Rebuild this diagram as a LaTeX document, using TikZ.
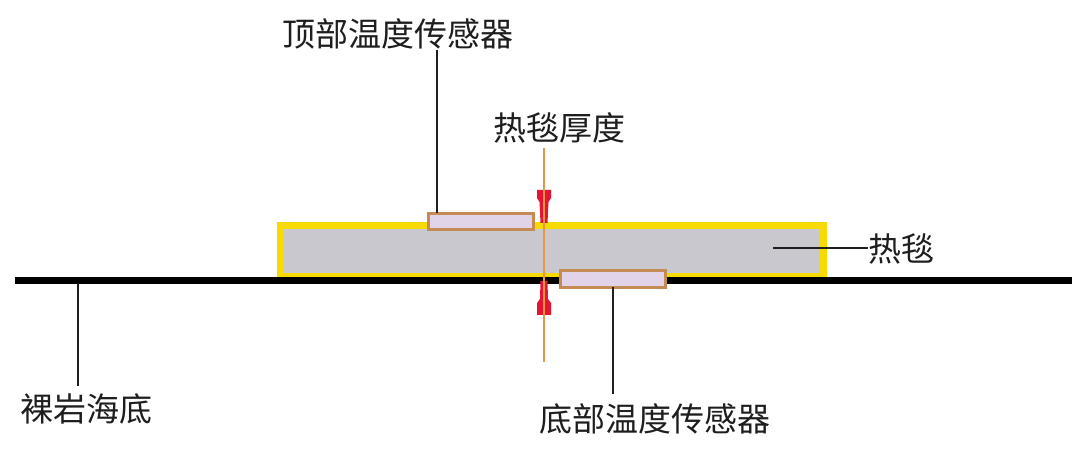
\documentclass[tikz,border=0pt]{standalone}
\usepackage{fontspec}
\newfontfamily\cjk{Noto Sans CJK SC}
\definecolor{blanketyellow}{RGB}{246,218,0}
\definecolor{blanketgray}{RGB}{201,200,206}
\definecolor{sensorbrown}{RGB}{196,140,84}
\definecolor{sensorfill}{RGB}{226,212,232}
\definecolor{thickorange}{RGB}{232,150,70}
\definecolor{arrowred}{RGB}{228,20,50}
\definecolor{txt}{RGB}{30,30,30}
\tikzset{
  lbl/.style={font=\cjk\fontsize{33}{33}\selectfont, text=txt, inner sep=0pt},
  blanketbox/.style={draw=blanketyellow, fill=blanketgray, line width=7pt, inner sep=0pt, outer sep=0pt},
  sensorbox/.style={draw=sensorbrown, fill=sensorfill, line width=3pt, inner sep=0pt, outer sep=0pt,
    minimum width=105pt, minimum height=16pt},
  leader/.style={draw=txt, line width=1.6pt},
}
\begin{document}
\begin{tikzpicture}[x=1pt, y=-1pt]
\useasboundingbox[fill=white] (0,0) rectangle (1080,449);
% blanket
\node[blanketbox, minimum width=543pt, minimum height=51pt] (blanket) at (552,251) {};
% seabed
\coordinate (sbL) at (15,281);
\coordinate (sbR) at (1072,281);
\draw[line width=7pt, black] (sbL) -- (sbR);
% sensors
\node[sensorbox] (topsensor) at (481,221.5) {};
\node[sensorbox, minimum height=17pt] (botsensor) at (613,279) {};
% thickness arrows
\fill[arrowred] (537,190) -- (551,190) -- (551,198) -- (548.5,202) -- (547.5,223) -- (540.5,223) -- (539.5,202) -- (537,198) -- cycle;
\fill[arrowred] (540.5,281) -- (547.5,281) -- (548,299) -- (551,303) -- (551,315) -- (537,315) -- (537,303) -- (540,299) -- cycle;
\coordinate (thTop) at (544,148);
\coordinate (thBot) at (544,362);
\draw[thickorange, line width=1.3pt] (thTop) -- (thBot);
% labels
\node[lbl] (toplabel) at (398,34) {顶部温度传感器};
\node[lbl] (thlabel) at (559,128) {热毯厚度};
\node[lbl, anchor=west] (blanketlabel) at (868,249) {热毯};
\node[lbl] (seabedlabel) at (86,409) {裸岩海底};
\node[lbl] (botlabel) at (655,419) {底部温度传感器};
% leaders
\coordinate (tl) at (437,50);
\draw[leader] (tl) -- (tl |- topsensor.north);
\coordinate (bp) at (773,248);
\draw[leader] (bp) -- (bp -| blanketlabel.west);
\coordinate (sp) at (78,283);
\coordinate (spe) at (78,386);
\draw[leader] (sp) -- (spe);
\coordinate (bse) at (613,394);
\draw[leader] (botsensor.south) -- (bse);
\end{tikzpicture}
\end{document}
